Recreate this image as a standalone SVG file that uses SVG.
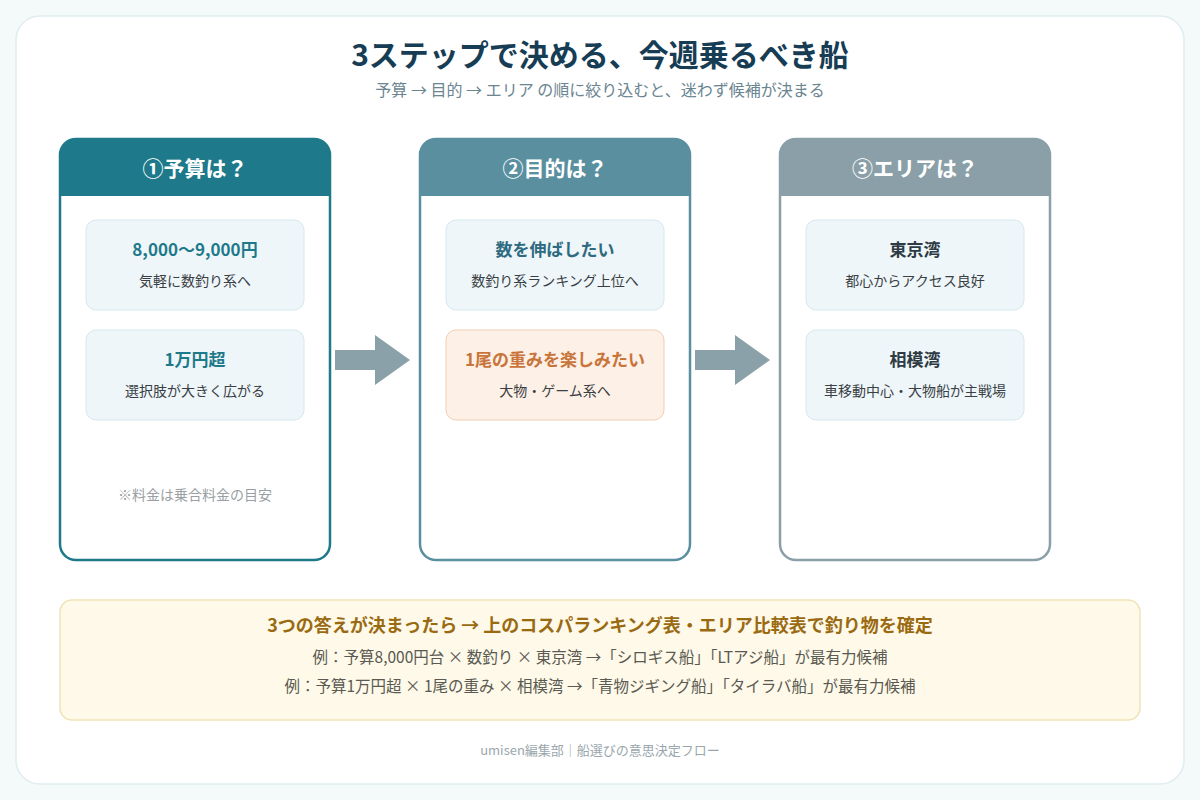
<svg xmlns="http://www.w3.org/2000/svg" width="1200" height="800" viewBox="0 0 1200 800">
<style>
text{font-family:"Noto Sans CJK JP","Noto Sans",sans-serif;text-anchor:middle}
.title{font-size:30px;font-weight:700;fill:#173d55}
.sub{font-size:16px;fill:#6b8591}
.hdr{font-size:21px;font-weight:700;fill:#fff}
.bt{font-size:17px;font-weight:700}
.bs{font-size:14px;fill:#3a3f44}
.box{fill:#eef6fa;stroke:#d6e8ee;stroke-width:1}
.note{font-size:14px;fill:#9a9fa3}
.ex{font-size:15.5px;fill:#5a5a52}
.foot{font-size:13px;fill:#9aa7ad}
.arrow{fill:#8ba1aa}
</style>
<rect width="1200" height="800" fill="#f4f9fa"/>
<rect x="16" y="16" width="1168" height="768" rx="24" fill="#fff" stroke="#e0edf0" stroke-width="1.5"/>
<text class="title" x="600" y="66">3ステップで決める、今週乗るべき船</text>
<text class="sub" x="600" y="96">予算 → 目的 → エリア の順に絞り込むと、迷わず候補が決まる</text>

<g id="step1">
<rect x="60" y="139" width="270" height="421" rx="16" fill="#fff" stroke="#1e7a8a" stroke-width="2.5"/>
<path d="M60,196 V155 A16,16 0 0 1 76,139 H314 A16,16 0 0 1 330,155 V196 Z" fill="#1e7a8a"/>
<text class="hdr" x="195" y="176">①予算は？</text>
<rect class="box" x="86" y="220" width="218" height="90" rx="10"/>
<text class="bt" x="195" y="256" fill="#1e7a8a">8,000〜9,000円</text>
<text class="bs" x="195" y="286">気軽に数釣り系へ</text>
<rect class="box" x="86" y="330" width="218" height="90" rx="10"/>
<text class="bt" x="195" y="366" fill="#1e7a8a">1万円超</text>
<text class="bs" x="195" y="396">選択肢が大きく広がる</text>
<text class="note" x="195" y="500">※料金は乗合料金の目安</text>
</g>

<g id="step2">
<rect x="420" y="139" width="270" height="421" rx="16" fill="#fff" stroke="#5a8fa0" stroke-width="2.5"/>
<path d="M420,196 V155 A16,16 0 0 1 436,139 H674 A16,16 0 0 1 690,155 V196 Z" fill="#5a8fa0"/>
<text class="hdr" x="555" y="176">②目的は？</text>
<rect class="box" x="446" y="220" width="218" height="90" rx="10"/>
<text class="bt" x="555" y="256" fill="#2e6a80">数を伸ばしたい</text>
<text class="bs" x="555" y="286">数釣り系ランキング上位へ</text>
<rect x="446" y="330" width="218" height="90" rx="10" fill="#fdf0e6" stroke="#f1cfb3" stroke-width="1"/>
<text class="bt" x="555" y="366" fill="#c8743a">1尾の重みを楽しみたい</text>
<text class="bs" x="555" y="396">大物・ゲーム系へ</text>
</g>

<g id="step3">
<rect x="780" y="139" width="270" height="421" rx="16" fill="#fff" stroke="#8a9fa8" stroke-width="2.5"/>
<path d="M780,196 V155 A16,16 0 0 1 796,139 H1034 A16,16 0 0 1 1050,155 V196 Z" fill="#8a9fa8"/>
<text class="hdr" x="915" y="176">③エリアは？</text>
<rect class="box" x="806" y="220" width="218" height="90" rx="10"/>
<text class="bt" x="915" y="256" fill="#2e3b44">東京湾</text>
<text class="bs" x="915" y="286">都心からアクセス良好</text>
<rect class="box" x="806" y="330" width="218" height="90" rx="10"/>
<text class="bt" x="915" y="366" fill="#2e3b44">相模湾</text>
<text class="bs" x="915" y="396">車移動中心・大物船が主戦場</text>
</g>

<g id="connectors">
<polygon class="arrow" points="335,350 375,350 375,335 410,360 375,385 375,370 335,370"/>
<polygon class="arrow" points="695,350 735,350 735,335 770,360 735,385 735,370 695,370"/>
</g>

<g id="summary">
<rect x="60" y="600" width="1080" height="120" rx="12" fill="#fef9e8" stroke="#f1e3b6" stroke-width="1.5"/>
<text x="600" y="632" font-size="18" font-weight="700" fill="#9a6a12">3つの答えが決まったら → 上のコスパランキング表・エリア比較表で釣り物を確定</text>
<text class="ex" x="600" y="663">例：予算8,000円台 × 数釣り × 東京湾 →「シロギス船」「LTアジ船」が最有力候補</text>
<text class="ex" x="600" y="692">例：予算1万円超 × 1尾の重み × 相模湾 →「青物ジギング船」「タイラバ船」が最有力候補</text>
</g>

<text class="foot" x="600" y="755">umisen編集部｜船選びの意思決定フロー</text>
</svg>
